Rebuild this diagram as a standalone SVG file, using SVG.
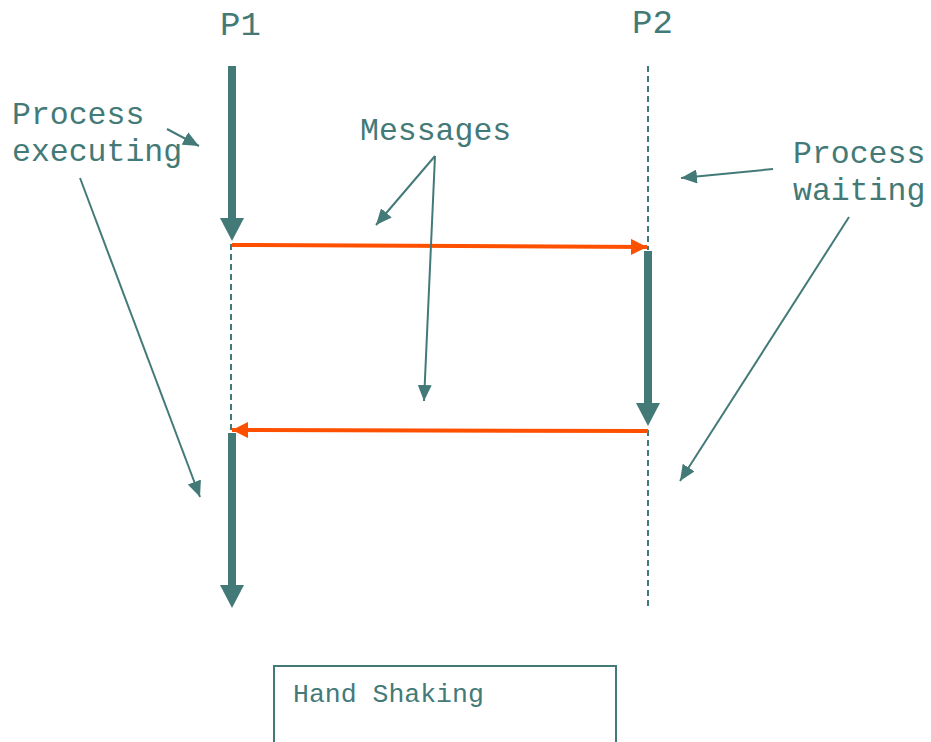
<svg xmlns="http://www.w3.org/2000/svg" width="931" height="742" viewBox="0 0 931 742">
<style>
text{font-family:"Liberation Mono","Courier New",monospace;fill:#437a78}
.big{font-size:34px}
.lbl{font-size:31.5px}
.dash{stroke:#437a78;stroke-width:2;stroke-dasharray:6 4;fill:none}
.bar{stroke:#437a78;stroke-width:8;fill:none;marker-end:url(#thick)}
.note{stroke:#437a78;stroke-width:2;fill:none;marker-end:url(#thin)}
.msg{stroke:#ff5000;stroke-width:4;fill:none;marker-end:url(#orange)}
</style>
<defs>
<marker id="thick" viewBox="0 0 23 24" refX="0" refY="12" markerWidth="23" markerHeight="24" markerUnits="userSpaceOnUse" orient="auto"><path d="M0,0 L23,12 L0,24 z" fill="#437a78"/></marker>
<marker id="thin" viewBox="0 0 16 14" refX="16" refY="7" markerWidth="16" markerHeight="14" markerUnits="userSpaceOnUse" orient="auto"><path d="M0,0 L16,7 L0,14 z" fill="#437a78"/></marker>
<marker id="orange" viewBox="0 0 16 16" refX="16" refY="8" markerWidth="16" markerHeight="16" markerUnits="userSpaceOnUse" orient="auto"><path d="M0,0 L16,8 L0,16 z" fill="#ff5000"/></marker>
</defs>
<rect width="931" height="742" fill="#fff"/>
<g id="p1">
<text class="big" x="220" y="35">P1</text>
<line class="bar" x1="232" y1="66" x2="232" y2="218"/>
<line class="dash" x1="231" y1="244" x2="231" y2="430"/>
<line class="bar" x1="232" y1="433" x2="232" y2="585"/>
</g>
<g id="p2">
<text class="big" x="632" y="33">P2</text>
<line class="dash" x1="648" y1="66" x2="648" y2="250"/>
<line class="bar" x1="648" y1="251" x2="648" y2="403"/>
<line class="dash" x1="648" y1="430" x2="648" y2="606"/>
</g>
<g id="labels">
<text class="lbl" x="12" y="124">Process</text>
<text class="lbl" x="12" y="161">executing</text>
<text class="lbl" x="360" y="140">Messages</text>
<text class="lbl" x="793" y="163">Process</text>
<text class="lbl" x="793" y="200">waiting</text>
</g>
<g id="handshaking">
<rect x="274" y="666" width="342" height="90" fill="none" stroke="#437a78" stroke-width="2"/>
<text x="293" y="702" style="font-size:26.5px">Hand Shaking</text>
</g>
<g id="connectors">
<line class="msg" x1="232" y1="245" x2="647" y2="247"/>
<line class="msg" x1="648" y1="431" x2="232" y2="430"/>
<line class="note" x1="167" y1="129" x2="199" y2="146"/>
<line class="note" x1="80" y1="178" x2="200" y2="497"/>
<line class="note" x1="435" y1="156" x2="376" y2="225"/>
<line class="note" x1="435" y1="156" x2="424" y2="401"/>
<line class="note" x1="773" y1="169" x2="681" y2="178"/>
<line class="note" x1="849" y1="217" x2="680" y2="481"/>
</g>
</svg>
